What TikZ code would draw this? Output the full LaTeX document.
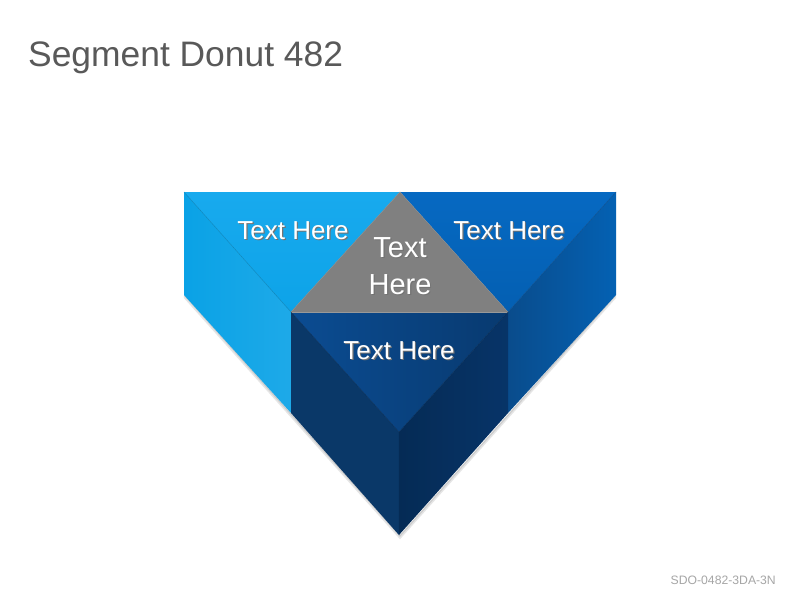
\documentclass[tikz,border=0pt]{standalone}
\usepackage{fontspec}
\setmainfont{Liberation Sans}
\definecolor{titlegray}{HTML}{595959}
\definecolor{codegray}{HTML}{A6A6A6}
\definecolor{lbtop}{HTML}{18AAEE}
\definecolor{lbtopb}{HTML}{0DA3E8}
\definecolor{lbside}{HTML}{0AA2E6}
\definecolor{rbtop}{HTML}{0669C2}
\definecolor{rbtopb}{HTML}{045FB2}
\definecolor{rbsidea}{HTML}{094C8C}
\definecolor{rbsideb}{HTML}{0461B3}
\definecolor{midgray}{HTML}{808080}
\definecolor{dktopa}{HTML}{0B4C92}
\definecolor{dktopb}{HTML}{083A70}
\definecolor{dkleft}{HTML}{0A3868}
\definecolor{dkrighta}{HTML}{052B55}
\definecolor{dkrightb}{HTML}{073468}
\newcommand{\shtext}[1]{\makebox[0pt][l]{\hspace{1.2pt}\raisebox{-1.2pt}{\color{black!55}#1}}#1}
\begin{document}
\begin{tikzpicture}[x=1pt,y=-1pt]
			\tikzstyle{face}=[line width=0.5pt,line join=round]
			\tikzstyle{label text}=[text=white,font=\fontsize{26}{36}\selectfont,inner sep=0pt,align=center]
			\tikzset{
				big label/.style={label text,font=\fontsize{29}{37}\selectfont},
				title text/.style={text=titlegray,font=\fontsize{35.4}{40}\selectfont,anchor=base west,inner sep=0pt},
				code text/.style={text=codegray,font=\fontsize{12.2}{14}\selectfont,anchor=base east,inner sep=0pt}
			}
			\useasboundingbox[fill=white] (0,0) rectangle (800,600);
			% corner points
			\coordinate (tl) at (184,192);
			\coordinate (tm) at (400,192);
			\coordinate (tr) at (616,192);
			\coordinate (bl) at (184,295);
			\coordinate (br) at (616,295);
			\coordinate (gl) at (291,312);
			\coordinate (gr) at (508,312);
			\coordinate (dl) at (291,413);
			\coordinate (dr) at (508,413);
			\coordinate (dm) at (399,432);
			\coordinate (ap) at (399,535);
			% soft shadow
			\draw[black!10,line width=3pt,line cap=round] (185,297) -- (400,537) -- (615,297);
			\draw[black!20,line width=1.2pt,line cap=round] (185,296) -- (400,536) -- (615,296);
			% left segment
			\shade[face,left color=lbside,right color=lbside!92!white] (tl) -- (gl) -- (dl) -- (bl) -- cycle;
			\shade[face,top color=lbtop,bottom color=lbtopb] (tl) -- (tm) -- (gl) -- cycle;
			\draw[lbside!80!black,line width=0.4pt] (tl) -- (gl);
			% right segment
			\shade[face,left color=rbsidea,right color=rbsideb] (tr) -- (br) -- (dr) -- (gr) -- cycle;
			\shade[face,top color=rbtop,bottom color=rbtopb] (tm) -- (tr) -- (gr) -- cycle;
			\draw[rbsidea,line width=0.4pt] (tr) -- (gr);
			% middle triangle
			\fill[face,midgray] (tm) -- (gr) -- (gl) -- cycle;
			\draw[black!45,line width=0.4pt] (gl) -- (tm) -- (gr);
			% front block
			\fill[face,dkleft] (gl) -- (dm) -- (ap) -- (dl) -- cycle;
			\shade[face,left color=dkrighta,right color=dkrightb] (gr) -- (dr) -- (ap) -- (dm) -- cycle;
			\shade[face,left color=dktopa,right color=dktopb] (gl) -- (gr) -- (dm) -- cycle;
			\draw[black!40,line width=0.4pt] (gl) -- (gr);
			\draw[dkrighta,line width=0.4pt] (gl) -- (dm) -- (gr) (dm) -- (ap);
			% labels
			\node(lefttext)[label text] at (293,231) {\shtext{Text Here}};
			\node(righttext)[label text] at (509,231) {\shtext{Text Here}};
			\node(midtext)[big label] at (400,267) {\shtext{Text}\\\shtext{Here}};
			\node(fronttext)[label text] at (399,351) {\shtext{Text Here}};
			\node(title)[title text] at (28,66) {Segment Donut 482};
			\node(code)[code text] at (776,584) {SDO-0482-3DA-3N};
		\end{tikzpicture}
\end{document}
